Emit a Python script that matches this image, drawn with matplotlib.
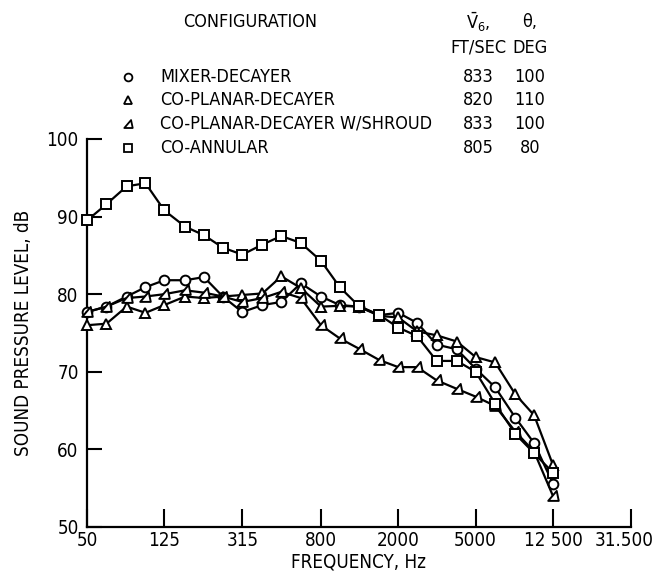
import matplotlib
matplotlib.use("Agg")
import matplotlib.pyplot as plt
import matplotlib.transforms as mtransforms
from matplotlib.path import Path
from matplotlib.lines import Line2D

plt.rcParams['font.family'] = ['DejaVu Sans']
plt.rcParams['font.stretch'] = 'condensed'
plt.rcParams['mathtext.fontset'] = 'custom'
plt.rcParams['mathtext.rm'] = 'DejaVu Sans:stretch=condensed'
plt.rcParams['mathtext.it'] = 'DejaVu Sans:stretch=condensed'

# One-third-octave band centre frequencies, Hz
freqs = [50, 63, 80, 100, 125, 160, 200, 250, 315, 400, 500, 630, 800,
         1000, 1250, 1600, 2000, 2500, 3150, 4000, 5000, 6300, 8000,
         10000, 12500]

# Sound pressure levels, dB
spl_mixer = [77.7, 78.4, 79.7, 80.9, 81.8, 81.8, 82.2, 79.7, 77.7, 78.6,
             79.0, 81.4, 79.7, 78.6, 78.4, 77.3, 77.6, 76.3, 73.5, 72.9,
             70.4, 68.0, 64.1, 60.8, 55.6]
spl_coplanar = [76.0, 76.2, 78.4, 77.6, 78.6, 79.7, 79.5, 79.7, 79.9, 80.1,
                82.3, 80.8, 78.4, 78.5, 78.4, 77.2, 77.0, 75.2, 74.7, 73.9,
                71.9, 71.2, 67.1, 64.4, 58.0]
spl_shroud = [77.7, 78.4, 79.5, 79.7, 80.0, 80.5, 80.2, 79.7, 79.0, 79.5,
              80.3, 79.5, 76.0, 74.3, 73.0, 71.5, 70.6, 70.6, 68.9, 67.8,
              66.8, 65.6, 62.3, 59.7, 54.0]
spl_coannular = [89.5, 91.6, 93.9, 94.3, 90.8, 88.7, 87.6, 86.0, 85.1, 86.4,
                 87.5, 86.6, 84.3, 80.9, 78.5, 77.3, 75.7, 74.6, 71.4, 71.4,
                 70.0, 65.9, 62.0, 59.5, 57.0]

configs = ["MIXER-DECAYER", "CO-PLANAR-DECAYER",
           "CO-PLANAR-DECAYER W/SHROUD", "CO-ANNULAR"]
velocity = ["833", "820", "833", "805"]
angle = ["100", "110", "100", "80"]

xtick_vals = [50, 125, 315, 800, 2000, 5000, 12500, 31500]
xtick_labels = ["50", "125", "315", "800", "2000", "5000", "12 500", "31.500"]
ytick_vals = [50, 60, 70, 80, 90, 100]

# tilted open triangle used for the shrouded configuration
tilt_tri = Path([(-0.9, -0.75), (0.9, -0.75), (0.55, 0.95), (-0.9, -0.75)],
                [Path.MOVETO, Path.LINETO, Path.LINETO, Path.CLOSEPOLY])

fig = plt.figure(figsize=(6.55, 5.77), dpi=100)
ax = fig.add_axes([0.1328, 0.0867, 0.8305, 0.6724])

series = [
    (spl_mixer, 'o', 7.0),
    (spl_coplanar, '^', 7.5),
    (spl_shroud, tilt_tri, 8.0),
    (spl_coannular, 's', 7.0),
]
for vals, mk, ms in series:
    ax.plot(freqs, vals, color='black', lw=1.6, marker=mk, ms=ms,
            mfc='white', mec='black', mew=1.4, zorder=3, clip_on=False)

ax.set_xscale('log')
ax.set_xlim(50, 31500)
ax.set_ylim(50, 100)
ax.set_xticks(xtick_vals)
ax.set_xticklabels(xtick_labels)
ax.xaxis.set_minor_locator(matplotlib.ticker.NullLocator())
ax.set_yticks(ytick_vals)
ax.set_yticklabels([str(v) for v in ytick_vals])

for s in ['top', 'right']:
    ax.spines[s].set_visible(False)
for s in ['left', 'bottom']:
    ax.spines[s].set_linewidth(1.6)

ax.tick_params(axis='x', direction='in', length=13, width=1.5,
               labelsize=13.5, pad=3)
ax.tick_params(axis='y', direction='in', length=11, width=1.5,
               labelsize=13.5, pad=6)

# keep the last frequency label inside the figure
last = ax.get_xticklabels()[-1]
last.set_transform(last.get_transform() +
                   mtransforms.ScaledTranslation(-7 / 100, 0,
                                                 fig.dpi_scale_trans))

ax.set_xlabel("FREQUENCY, Hz", fontsize=13.5, labelpad=2)
ax.set_ylabel("SOUND PRESSURE LEVEL, dB", fontsize=13.5, labelpad=10)

# key above the plot
fs = 13
fig.text(250 / 655, 1 - 22 / 577, "CONFIGURATION", ha='center', va='center',
         fontsize=fs)
fig.text(478 / 655, 1 - 22 / 577, r"$\mathrm{\bar{V}_6}$,", ha='center',
         va='center', fontsize=fs)
fig.text(530 / 655, 1 - 22 / 577, "θ,", ha='center', va='center',
         fontsize=fs)
fig.text(478 / 655, 1 - 48 / 577, "FT/SEC", ha='center', va='center',
         fontsize=fs)
fig.text(530 / 655, 1 - 48 / 577, "DEG", ha='center', va='center',
         fontsize=fs)

row_y = [77, 100, 124, 148]
for (vals, mk, ms), name, v, a, y in zip(series, configs, velocity, angle,
                                         row_y):
    yf = 1 - y / 577
    fig.lines.append(Line2D(
        [128 / 655], [yf], transform=fig.transFigure, marker=mk,
        ms=ms * 0.8, mfc='white', mec='black', mew=1.3, ls='none'))
    fig.text(160 / 655, yf, name, ha='left', va='center', fontsize=fs)
    fig.text(478 / 655, yf, v, ha='center', va='center', fontsize=fs)
    fig.text(530 / 655, yf, a, ha='center', va='center', fontsize=fs)

fig.savefig("out.png", dpi=100)
